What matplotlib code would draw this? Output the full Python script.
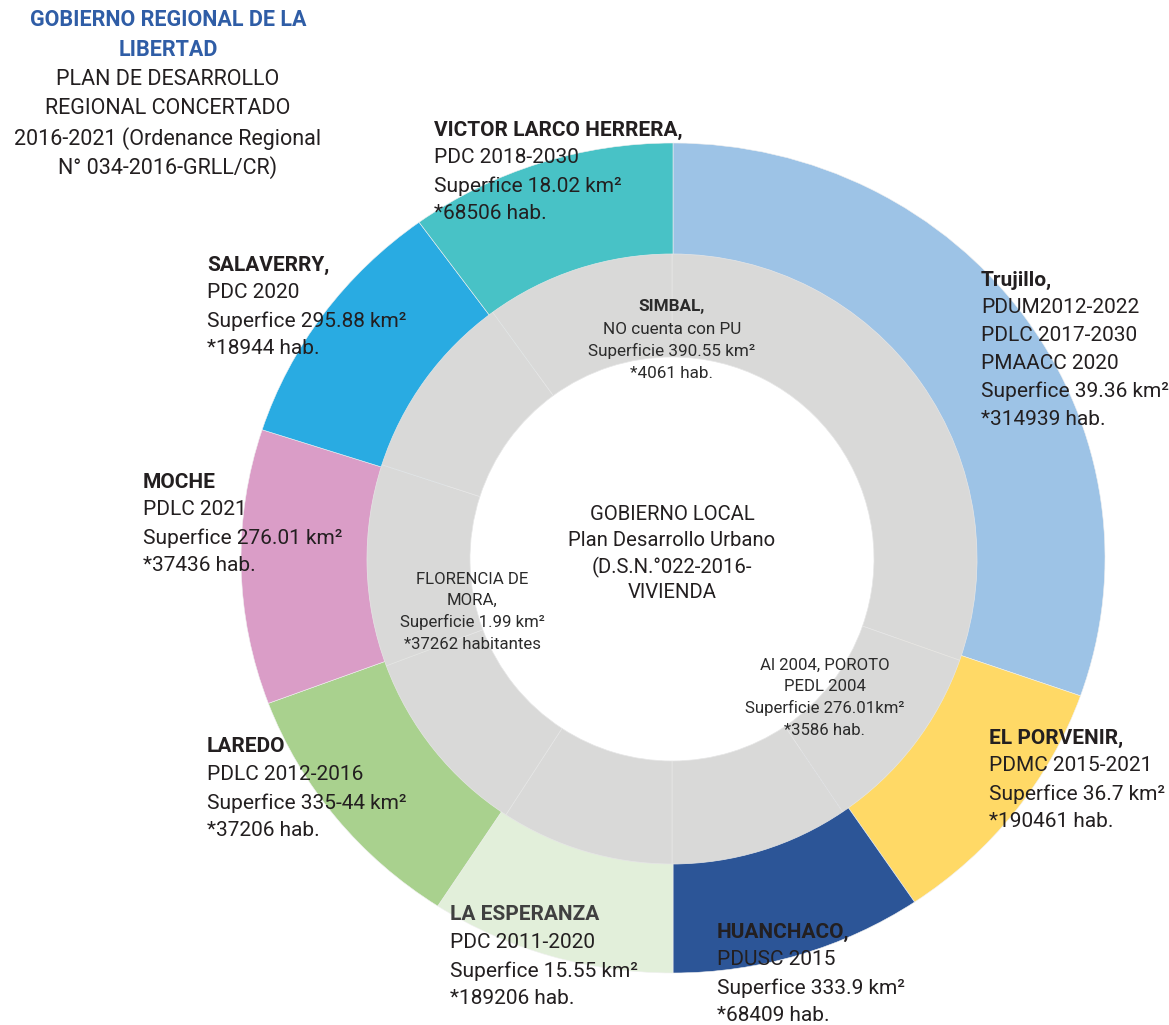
import matplotlib
matplotlib.use("Agg")
import matplotlib.pyplot as plt

plt.rcParams["font.family"] = ["Roboto", "DejaVu Sans"]

# Outer ring: districts with their plan, clockwise from 12 o'clock (angular share, degrees)
districts = ["Trujillo", "EL PORVENIR", "HUANCHACO", "LA ESPERANZA",
             "LAREDO", "MOCHE", "SALAVERRY", "VICTOR LARCO HERRERA"]
ring_share = [109.4, 36.6, 34.0, 33.0, 36.5, 38.5, 36.0, 36.0]
ring_colors = ["#9DC3E6", "#FFD966", "#2C5597", "#E2EFDA",
               "#A9D18E", "#DA9DC7", "#29ABE2", "#48C2C6"]

# Label text for each district
district_lines = {
    "Trujillo": ["Trujillo,", "PDUM2012-2022", "PDLC 2017-2030", "PMAACC 2020",
                 "Superfice 39.36 km²", "*314939 hab."],
    "EL PORVENIR": ["EL PORVENIR,", "PDMC 2015-2021", "Superfice 36.7 km²", "*190461 hab."],
    "HUANCHACO": ["HUANCHACO,", "PDUSC 2015", "Superfice 333.9 km²", "*68409 hab."],
    "LA ESPERANZA": ["LA ESPERANZA", "PDC 2011-2020", "Superfice 15.55 km²", "*189206 hab."],
    "LAREDO": ["LAREDO", "PDLC 2012-2016", "Superfice 335-44 km²", "*37206 hab."],
    "MOCHE": ["MOCHE", "PDLC 2021", "Superfice 276.01 km²", "*37436 hab."],
    "SALAVERRY": ["SALAVERRY,", "PDC 2020", "Superfice 295.88 km²", "*18944 hab."],
    "VICTOR LARCO HERRERA": ["VICTOR LARCO HERRERA,", "PDC 2018-2030",
                             "Superfice 18.02 km²", "*68506 hab."],
}

# Inner (gray) ring notes
simbal_lines = ["SIMBAL,", "NO cuenta con PU", "Superficie 390.55 km²", "*4061 hab."]
florencia_lines = ["FLORENCIA DE", "MORA,", "Superficie 1.99 km²", "*37262 habitantes"]
poroto_lines = ["Al 2004, POROTO", "PEDL 2004", "Superficie 276.01km²", "*3586 hab."]
center_lines = ["GOBIERNO LOCAL", "Plan Desarrollo Urbano", "(D.S.N.°022-2016-", "VIVIENDA"]

title_bold = ["GOBIERNO REGIONAL DE LA", "LIBERTAD"]
title_plain = ["PLAN DE DESARROLLO", "REGIONAL CONCERTADO",
               "2016-2021 (Ordenance Regional", "N° 034-2016-GRLL/CR)"]

W, H = 1169, 1025
fig = plt.figure(figsize=(W / 100, H / 100), dpi=100)
fig.patch.set_facecolor("white")

# Outer coloured ring (slightly wider than tall)
cx, cy = 673, 558
rx, ry = 432, 415
ax_o = fig.add_axes([0, 0, 1, 1])
ax_o.pie(ring_share, colors=ring_colors, startangle=90, counterclock=False,
         radius=1.0, wedgeprops=dict(width=0.45, edgecolor="#F0F0F0", linewidth=0.4))
ax_o.set_aspect("auto")
ax_o.set_xlim(-cx / rx, (W - cx) / rx)
ax_o.set_ylim(-(H - cy) / ry, cy / ry)
ax_o.axis("off")

# Inner gray ring, pixel coordinates
ax = fig.add_axes([0, 0, 1, 1])
ax.patch.set_alpha(0)
ax.pie(ring_share, colors=["#D9D9D8"] * len(ring_share), startangle=90,
       counterclock=False, radius=305, center=(672, H - 559),
       wedgeprops=dict(width=103, edgecolor="#E6E6E6", linewidth=0.5))
ax.set_aspect("auto")
ax.set_xlim(0, W)
ax.set_ylim(0, H)
ax.axis("off")

dark = "#231F20"


def block(lines, x, y0, step, size, ha="left", bold_first=True, color=dark,
          first_color=None):
    for i, line in enumerate(lines):
        weight = "bold" if (bold_first and i == 0) else "normal"
        c = first_color if (i == 0 and first_color) else color
        ax.text(x, H - (y0 + i * step), line, ha=ha, va="center",
                fontsize=size, fontweight=weight, color=c)


pos = {
    "Trujillo": (981, 280),
    "EL PORVENIR": (989, 738),
    "HUANCHACO": (717, 932),
    "LA ESPERANZA": (450, 915),
    "LAREDO": (207, 747),
    "MOCHE": (143, 482),
    "SALAVERRY": (207, 265),
    "VICTOR LARCO HERRERA": (434, 130),
}
for name in districts:
    x, y = pos[name]
    fc = "#404040" if name == "LA ESPERANZA" else None
    block(district_lines[name], x, y, 27.9, 15, first_color=fc)

block(simbal_lines, 672, 307, 22, 12.3, ha="center", color="#2B2B2B")
block(florencia_lines, 472, 579, 21.7, 12.1, ha="center", bold_first=False, color="#2B2B2B")
block(poroto_lines, 825, 665, 21.7, 12.1, ha="center", bold_first=False, color="#2B2B2B")
block(center_lines, 672, 515, 26, 14.6, ha="center", bold_first=False, color=dark)

# Header
for i, line in enumerate(title_bold):
    ax.text(168, H - (20 + i * 29.6), line, ha="center", va="center",
            fontsize=15.5, fontweight="bold", color="#2F5DA6")
for i, line in enumerate(title_plain):
    ax.text(168, H - (20 + (i + 2) * 29.6), line, ha="center", va="center",
            fontsize=15.5, color=dark)

fig.savefig("out.png", dpi=100, facecolor="white")
